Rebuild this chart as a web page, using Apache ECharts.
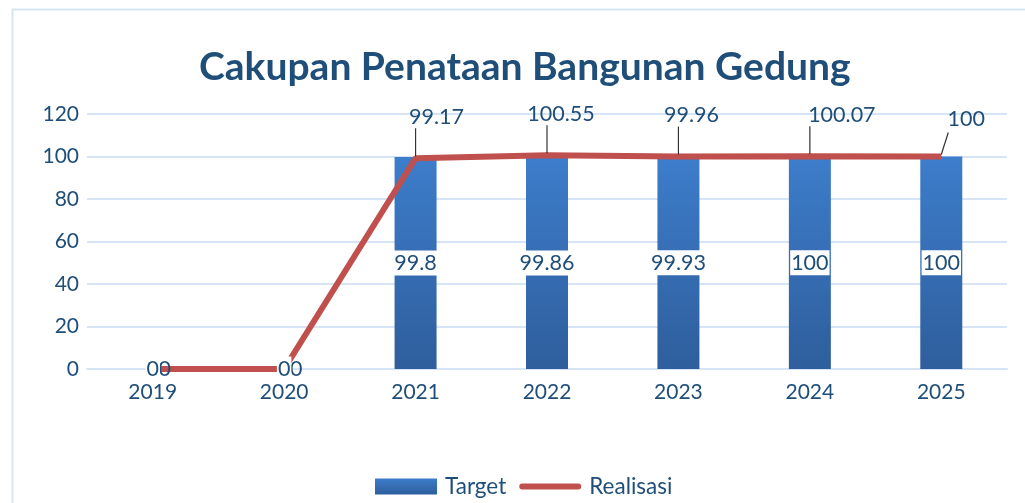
<!DOCTYPE html>
<html>
<head>
<meta charset="utf-8">
<script src="https://cdn.jsdelivr.net/npm/echarts@6/dist/echarts.min.js"></script>
<style>
  html, body { margin: 0; padding: 0; background: #fff; }
  #chart { width: 1025px; height: 503px; }
</style>
</head>
<body>
<div id="chart"></div>
<script>
// data
var years = ["2019", "2020", "2021", "2022", "2023", "2024", "2025"];
var target = [0, 0, 99.8, 99.86, 99.93, 100, 100];
var realisasi = [0, 0, 99.17, 100.55, 99.96, 100.07, 100];
var yTicks = { min: 0, max: 120, interval: 20 };

// the line labels were dragged by hand in the original (px moves from default "top")
var lineLabelShift = [[12, 17], [12, 17], [21, -25], [14, -25], [13, -25], [32, -25], [25, -21]];
// leader lines: [dx, rise] in px from the point, null = none
var leaderTip = [null, null, [0, 30], [0, 30], [0, 30], [0, 30], [7, 24]];

var textBlue = "#1F4E79";
var gridBlue = "#D6E4F5";
var red = "#C0504D";

var chart = echarts.init(document.getElementById("chart"));

var barGradient = new echarts.graphic.LinearGradient(0, 0, 0, 1, [
  { offset: 0, color: "#3D7DCB" },
  { offset: 1, color: "#2E5E9C" }
]);

var option = {
  animation: false,
  textStyle: { fontFamily: "Lato" },
  graphic: [
    {
      type: "rect",
      left: 10,
      top: 7,
      shape: { width: 1100, height: 600 },
      style: { fill: "none", stroke: gridBlue, lineWidth: 2 },
      z: -1
    }
  ],
  title: {
    text: "Cakupan Penataan Bangunan Gedung",
    left: 194,
    top: 43,
    textStyle: { fontFamily: "Lato", fontSize: 39, fontWeight: "bold", color: textBlue }
  },
  legend: {
    bottom: 0,
    left: 370,
    itemWidth: 62,
    itemHeight: 16,
    itemGap: 13,
    textStyle: { fontFamily: "Lato", fontSize: 22.5, color: textBlue, padding: [0, 0, 0, 3] },
    data: [
      { name: "Target", icon: "rect", itemStyle: { color: barGradient } },
      {
        name: "Realisasi",
        icon: "path://M0,0L0.01,0ZM3,5L59,5A3,3,0,0,1,59,11L3,11A3,3,0,0,1,3,5ZM0,16L0.01,16Z",
        itemStyle: { color: red }
      }
    ]
  },
  grid: { left: 87, right: 18, top: 114, bottom: 134 },
  xAxis: {
    type: "category",
    data: years,
    axisLine: { lineStyle: { color: gridBlue, width: 2 } },
    axisTick: { show: false },
    axisLabel: { fontFamily: "Lato", fontSize: 21, color: textBlue, margin: 13 }
  },
  yAxis: {
    type: "value",
    min: yTicks.min,
    max: yTicks.max,
    interval: yTicks.interval,
    axisLine: { show: false },
    axisTick: { show: false },
    splitLine: { lineStyle: { color: gridBlue, width: 2 } },
    axisLabel: { fontFamily: "Lato", fontSize: 21, color: textBlue, margin: 8 }
  },
  series: [
    {
      name: "Target",
      type: "bar",
      data: target,
      barWidth: 42,
      itemStyle: { color: barGradient },
      z: 2
    },
    {
      // same bars again, invisible, only to put the white-boxed labels above the line
      name: "Target labels",
      type: "bar",
      data: target,
      barWidth: 42,
      barGap: "-100%",
      silent: true,
      itemStyle: { color: "rgba(0,0,0,0)" },
      label: {
        show: true,
        position: "inside",
        fontFamily: "Lato",
        fontSize: 21.5,
        color: textBlue,
        backgroundColor: "#fff",
        padding: [2, 1, 1, 1]
      },
      z: 6
    },
    {
      name: "Realisasi",
      type: "line",
      data: realisasi,
      symbol: "circle",
      symbolSize: 1,
      lineStyle: { color: red, width: 6 },
      itemStyle: { color: red },
      label: {
        show: true,
        position: "top",
        distance: 5,
        fontFamily: "Lato",
        fontSize: 21.5,
        color: textBlue
      },
      labelLayout: function (params) {
        var s = lineLabelShift[params.dataIndex];
        return { dx: s[0], dy: s[1] };
      },
      z: 3
    },
    {
      name: "leaders",
      type: "custom",
      data: realisasi.map(function (v, i) { return [i, v]; }),
      silent: true,
      renderItem: function (params, api) {
        var tip = leaderTip[params.dataIndex];
        if (!tip) return null;
        var p = api.coord([api.value(0), api.value(1)]);
        return {
          type: "line",
          shape: { x1: p[0], y1: p[1] - 2, x2: p[0] + tip[0], y2: p[1] - tip[1] },
          style: { stroke: "#333", lineWidth: 1.2 }
        };
      },
      z: 4
    }
  ]
};

chart.setOption(option);
</script>
</body>
</html>
